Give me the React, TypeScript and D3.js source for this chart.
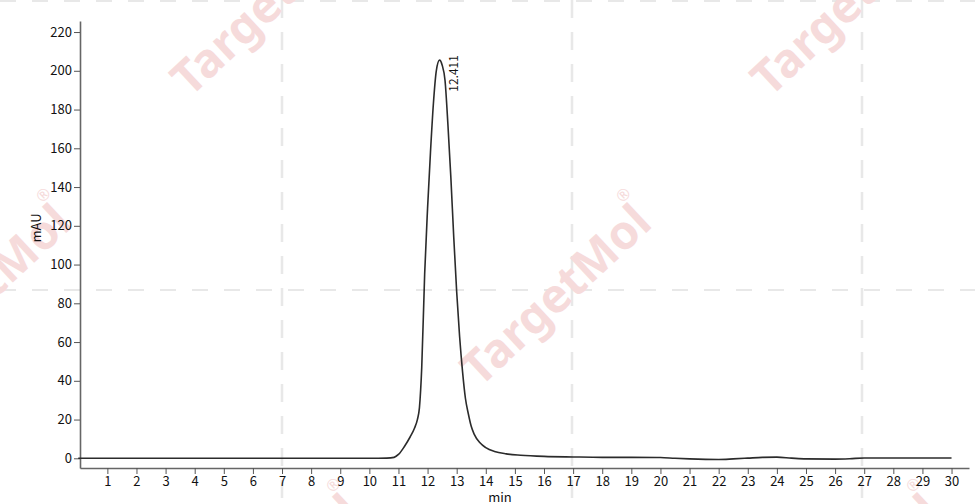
import { useEffect, useRef } from "react";
import * as d3 from "d3";

// retention time (min) and absorbance (mAU)
const times: number[] = [
  0, 5, 10, 10.6, 10.85, 11.0, 11.2, 11.4, 11.55, 11.65, 11.72, 11.8, 11.9,
  12.0, 12.1, 12.2, 12.3, 12.411, 12.5, 12.6, 12.7, 12.8, 12.9, 13.0, 13.1,
  13.2, 13.3, 13.4, 13.5, 13.6, 13.8, 14.0, 14.3, 14.7, 15.2, 16, 17, 18, 19,
  20, 20.5, 21, 22, 22.5, 23, 23.5, 24, 24.5, 25, 26, 26.5, 27, 28, 29, 30,
];
const signal: number[] = [
  0, 0, 0, 0.1, 0.5, 2, 6, 11, 15.5, 20, 26, 47, 95, 129, 158, 183, 200,
  205.5, 203, 195, 172, 145, 114, 86, 63, 45, 31, 23, 16.5, 12.5, 8, 5.5, 3.5,
  2.3, 1.6, 1.0, 0.7, 0.5, 0.5, 0.4, 0, -0.3, -0.6, -0.3, 0.1, 0.5, 0.6, 0.1,
  -0.3, -0.4, -0.2, 0.2, 0.2, 0.2, 0.2,
];

const xTicks: number[] = d3.range(1, 31);
const yTicks: number[] = d3.range(0, 221, 20);

const peakTime = 12.411;
const peakHeight = 205.5;
const peakLabel = "12.411";

const xLabel = "min";
const yLabel = "mAU";
const watermark = "TargetMol";

export default function App() {
  const svgRef = useRef<SVGSVGElement>(null);

  useEffect(() => {
    if (!svgRef.current) return;
    const W = 975;
    const H = 504;
    const font = "'Noto Sans CJK SC', 'Noto Sans', sans-serif";

    const svg = d3.select(svgRef.current);
    svg.selectAll("*").remove();
    svg.attr("width", W).attr("height", H);

    // background: dashed lattice + watermark
    const bg = svg.append("g");
    [282, 572, 862].forEach((gx) => {
      bg.append("line")
        .attr("x1", gx).attr("x2", gx).attr("y1", 0).attr("y2", H)
        .attr("stroke", "#e8e8e8").attr("stroke-width", 2.5)
        .attr("stroke-dasharray", "18,14");
    });
    [1, 290].forEach((gy) => {
      bg.append("line")
        .attr("x1", 0).attr("x2", W).attr("y1", gy).attr("y2", gy)
        .attr("stroke", "#e8e8e8").attr("stroke-width", 2)
        .attr("stroke-dasharray", "16,16");
    });
    const marks = [
      [190, 98], [770, 98], [-100, 388], [480, 388], [190, 678], [770, 678],
    ];
    marks.forEach(([mx, my]) => {
      const t = bg.append("text")
        .attr("transform", `translate(${mx},${my}) rotate(-43)`)
        .style("font-family", "'Noto Sans', sans-serif")
        .style("font-weight", 700)
        .style("font-size", "47px")
        .style("fill", "#f6dbdb")
        .text(watermark);
      t.append("tspan")
        .attr("dx", -8).attr("dy", -38)
        .style("font-size", "16px")
        .style("font-weight", 400)
        .text("®");
    });

    const x = d3.scaleLinear().domain([0.06, 30.6]).range([80, 969]);
    const y = d3.scaleLinear().domain([-5, 225.7]).range([468, 21]);

    // axes
    const xAxis = svg.append("g")
      .attr("transform", `translate(0,${y(-5)})`)
      .call(d3.axisBottom(x).tickValues(xTicks).tickSize(6).tickPadding(3).tickSizeOuter(0));
    const yAxis = svg.append("g")
      .attr("transform", `translate(${x(0.06)},0)`)
      .call(d3.axisLeft(y).tickValues(yTicks).tickSize(6).tickPadding(2).tickSizeOuter(0));
    [xAxis, yAxis].forEach((a) => {
      a.select(".domain").attr("stroke", "#666").attr("stroke-width", 1.6);
      a.selectAll(".tick line").attr("stroke", "#555").attr("stroke-width", 1);
      a.selectAll(".tick text")
        .style("font-family", font)
        .style("font-size", "13px")
        .attr("fill", "#111");
    });

    svg.append("text")
      .attr("x", 500).attr("y", 502)
      .attr("text-anchor", "middle")
      .style("font-family", font).style("font-size", "13px").attr("fill", "#111")
      .text(xLabel);
    svg.append("text")
      .attr("transform", `translate(41,228) rotate(-90)`)
      .attr("text-anchor", "middle")
      .style("font-family", font).style("font-size", "13px").attr("fill", "#111")
      .text(yLabel);

    // trace
    const pts = times.map((t, i) => [t, signal[i]] as [number, number]);
    const line = d3.line<[number, number]>()
      .x((d) => x(d[0]))
      .y((d) => y(d[1]))
      .curve(d3.curveMonotoneX);
    svg.append("path")
      .datum(pts)
      .attr("fill", "none")
      .attr("stroke", "#2b2b2b")
      .attr("stroke-width", 1.6)
      .attr("d", line);

    // peak label
    svg.append("text")
      .attr("transform", `translate(${x(peakTime) + 18},${y(peakHeight) - 5}) rotate(-90)`)
      .attr("text-anchor", "end")
      .style("font-family", font).style("font-size", "12px").attr("fill", "#111")
      .text(peakLabel);
  }, []);

  return (
    <svg
      ref={svgRef}
      style={{ position: "absolute", left: 0, top: 0, background: "#fff" }}
    ></svg>
  );
}
